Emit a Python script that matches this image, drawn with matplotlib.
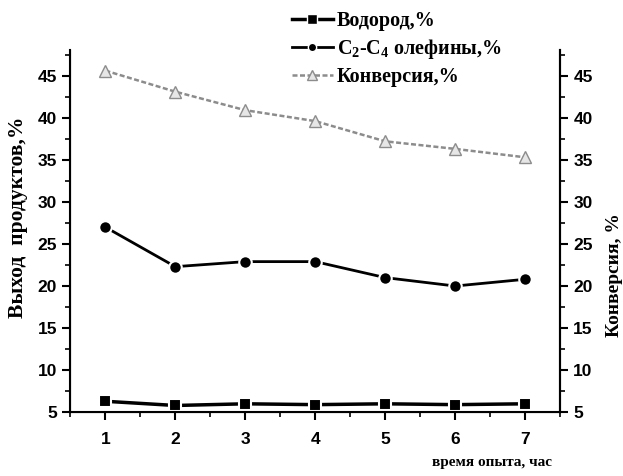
import matplotlib
matplotlib.use('Agg')
import matplotlib.pyplot as plt
from matplotlib.lines import Line2D
from matplotlib.ticker import MultipleLocator

hours = [1, 2, 3, 4, 5, 6, 7]
hydrogen = [6.3, 5.8, 6.0, 5.9, 6.0, 5.9, 6.0]
olefins = [27.0, 22.3, 22.9, 22.9, 21.0, 20.0, 20.8]
conversion = [45.6, 43.1, 40.9, 39.6, 37.2, 36.3, 35.3]

labels = ['Водород,%', r'C$_2$-C$_4$ олефины,%', 'Конверсия,%']

plt.rcParams['mathtext.fontset'] = 'custom'
plt.rcParams['mathtext.rm'] = 'Liberation Serif:bold'
plt.rcParams['mathtext.it'] = 'Liberation Serif:bold'
plt.rcParams['mathtext.bf'] = 'Liberation Serif:bold'

tickfont = dict(family='Liberation Sans', weight='bold', size=12.5)
serif = dict(family='Liberation Serif', weight='bold')

fig = plt.figure(figsize=(6.23, 4.76), dpi=100)
ax = fig.add_axes([0.113, 0.134, 0.786, 0.76])

ax.plot(hours, hydrogen, color='black', lw=2.5, marker='s', ms=9,
        mec='white', mew=1.5, mfc='black')
ax.plot(hours, olefins, color='black', lw=2, marker='o', ms=9,
        mec='white', mew=1.5, mfc='black')
ax.plot(hours, conversion, color='#8c8c8c', lw=1.8, ls=(0, (2, 1)),
        marker='^', ms=8, mec='#8c8c8c', mfc='#e6e6e6', mew=1)

ax.set_xlim(0.5, 7.5)
ax.set_ylim(5, 48)
ax.spines['top'].set_visible(False)
for s in ['left', 'right', 'bottom']:
    ax.spines[s].set_linewidth(1.5)

ax.xaxis.set_major_locator(MultipleLocator(1))
ax.xaxis.set_minor_locator(MultipleLocator(0.5))
ax.yaxis.set_major_locator(MultipleLocator(5))
ax.yaxis.set_minor_locator(MultipleLocator(2.5))
ax.tick_params(which='major', direction='out', length=6, width=1.5)
ax.tick_params(which='minor', direction='out', length=3.5, width=1.2)
ax.tick_params(axis='x', pad=8)
ax.set_xticks(hours)
ax.set_xticklabels([str(h) for h in hours], fontdict=tickfont)
ax.set_yticks(range(5, 50, 5))
ax.set_yticklabels([str(v) for v in range(5, 50, 5)], fontdict=tickfont)
ax.set_ylabel('Выход  продуктов,%', fontsize=15.5, **serif)
ax.yaxis.set_label_coords(-0.086, 0.54)

ax2 = ax.twinx()
ax2.set_ylim(5, 48)
ax2.spines['top'].set_visible(False)
ax2.spines['right'].set_linewidth(1.5)
ax2.yaxis.set_minor_locator(MultipleLocator(2.5))
ax2.tick_params(which='major', direction='out', length=6, width=1.5)
ax2.tick_params(which='minor', direction='out', length=3.5, width=1.2)
ax2.set_yticks(range(5, 50, 5))
ax2.set_yticklabels([str(v) for v in range(5, 50, 5)], fontdict=tickfont)
ax2.set_ylabel('Конверсия, %', fontsize=14, **serif)
ax2.yaxis.set_label_coords(1.093, 0.38)

fig.text(0.79, 0.015, 'время опыта, час', ha='center', va='bottom',
         fontsize=11, **serif)

handles = [
    Line2D([], [], color='black', lw=2.5, marker='s', ms=7, mec='white', mew=1),
    Line2D([], [], color='black', lw=2, marker='o', ms=6, mec='white', mew=1),
    Line2D([], [], color='#8c8c8c', lw=1.8, ls=(0, (2, 1)), marker='^', ms=7,
           mec='#8c8c8c', mfc='#e6e6e6', mew=1),
]
fig.legend(handles, labels, loc='upper left', bbox_to_anchor=(0.44, 1.015),
           frameon=False, handlelength=2.0, handletextpad=0.2, labelspacing=0.3,
           prop=dict(family='Liberation Serif', weight='bold', size=14.5))

fig.savefig('out.png', dpi=100)
